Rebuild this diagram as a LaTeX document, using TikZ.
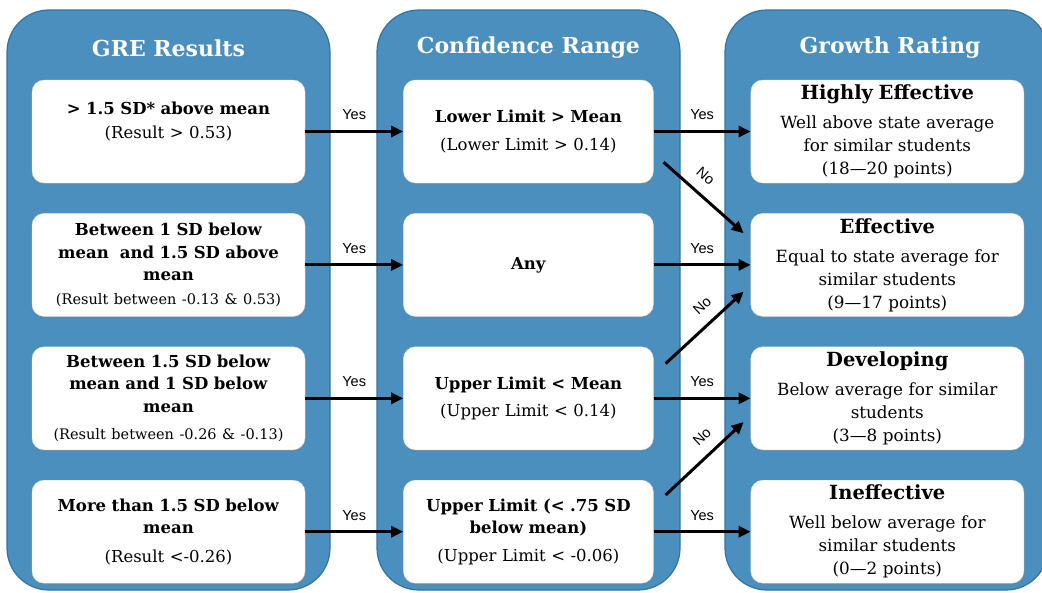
\documentclass[tikz,border=0pt]{standalone}
\usepackage{fontspec}
\setmainfont{DejaVu Serif}
\newfontfamily\yesnofont{Liberation Sans}
\usetikzlibrary{arrows.meta, positioning, shadows}
\definecolor{panelBlue}{RGB}{74, 143, 190}
\definecolor{panelEdge}{RGB}{50, 116, 163}
\newcommand{\noteSize}{\fontsize{14.5}{17}\selectfont}
\newcommand{\rateTitle}{\fontsize{19.5}{23}\selectfont\bfseries}
\tikzset{
    % 三个蓝色大框
    panel/.style={
        rectangle, rounded corners=42pt, fill=panelBlue, draw=panelEdge,
        line width=1.2pt, minimum height=580pt, inner sep=0pt
    },
    panelTitle/.style={text=white, font=\fontsize{22}{26}\selectfont\bfseries},
    %
    % 白色小框
    baseBox/.style={
        rectangle, rounded corners=12pt, fill=white, draw=black!12,
        line width=0.4pt, minimum height=103pt, align=center, inner sep=2pt,
        font=\fontsize{16.5}{22.5}\selectfont,
        drop shadow={opacity=0.25, shadow xshift=1pt, shadow yshift=-2pt}
    },
    greBox/.style={baseBox, minimum width=273pt, text width=269pt},
    crBox/.style={baseBox, minimum width=250pt, text width=246pt},
    grBox/.style={baseBox, minimum width=273pt, text width=269pt, font=\fontsize{16.8}{23}\selectfont},
    %
    % 连线
    conn/.style={draw=black, line width=3pt, -{Triangle[length=12pt, width=11pt]}},
    yesLabel/.style={above, inner sep=10pt, font=\yesnofont\fontsize{14.5}{17}\selectfont},
    noLabel/.style={above, sloped, inner sep=11pt, font=\yesnofont\fontsize{14.5}{17}\selectfont}
}

\begin{document}
\begin{tikzpicture}[x=1pt, y=-1pt]

	\useasboundingbox (0,0) rectangle (1042,592);
	\fill[white] (0,0) rectangle (1042,592);

	%% 大框
	\node (grePanel) [panel, minimum width=323pt] at (168.5,300) {};
	\node (crPanel) [panel, minimum width=303pt] at (528.5,300) {};
	\node (grPanel) [panel, minimum width=323pt] at (886.5,300) {};

	\node (greTitle) [panelTitle] at (168.5,48) {GRE Results};
	\node (crTitle) [panelTitle] at (528.5,48) {Confidence Range};
	\node (grTitle) [panelTitle] at (890,48) {Growth Rating};

	%% 左列
	\node (gre1) [greBox] at (168.5,131.5) {\textbf{> 1.5 SD* above mean}\\[2pt] (Result > 0.53)\\ \mbox{}};
	\node (gre2) [greBox, below=30pt of gre1] {\textbf{Between 1 SD below}\\ \textbf{mean\ \ and 1.5 SD above}\\ \textbf{mean}\\[1pt] {\noteSize (Result between -0.13 \& 0.53)}};
	\node (gre3) [greBox, below=30pt of gre2] {\textbf{Between 1.5 SD below}\\ \textbf{mean and 1 SD below}\\ \textbf{mean}\\[5pt] {\noteSize (Result between -0.26 \& -0.13)}};
	\node (gre4) [greBox, below=30pt of gre3] {\textbf{More than 1.5 SD below}\\ \textbf{mean}\\[6pt] (Result <-0.26)};

	%% 中列
	\node (cr1) [crBox, right=98pt of gre1] {\textbf{Lower Limit > Mean}\\[5pt] (Lower Limit > 0.14)};
	\node (cr2) [crBox, right=98pt of gre2] {\textbf{Any}};
	\node (cr3) [crBox, right=98pt of gre3] {\textbf{Upper Limit < Mean}\\[5pt] (Upper Limit < 0.14)};
	\node (cr4) [crBox, right=98pt of gre4] {\textbf{Upper Limit (< .75 SD}\\ \textbf{below mean)}\\[5pt] (Upper Limit < -0.06)};

	%% 右列
	\node (gr1) [grBox, right=97pt of cr1] {{\rateTitle Highly Effective}\\[6pt] Well above state average\\ for similar students\\ (18—20 points)};
	\node (gr2) [grBox, right=97pt of cr2] {{\rateTitle Effective}\\[6pt] Equal to state average for\\ similar students\\ (9—17 points)};
	\node (gr3) [grBox, right=97pt of cr3] {{\rateTitle Developing}\\[6pt] Below average for similar\\ students\\ (3—8 points)};
	\node (gr4) [grBox, right=97pt of cr4] {{\rateTitle Ineffective}\\[6pt] Well below average for\\ similar students\\ (0—2 points)};

	%% 连线：Yes
	\draw[conn] (gre1.east) -- node[yesLabel] {Yes} (cr1.west);
	\draw[conn] (gre2.east) -- node[yesLabel] {Yes} (cr2.west);
	\draw[conn] (gre3.east) -- node[yesLabel] {Yes} (cr3.west);
	\draw[conn] (gre4.east) -- node[yesLabel] {Yes} (cr4.west);

	\draw[conn] (cr1.east) -- node[yesLabel] {Yes} (gr1.west);
	\draw[conn] (cr2.east) -- node[yesLabel] {Yes} (gr2.west);
	\draw[conn] (cr3.east) -- node[yesLabel] {Yes} (gr3.west);
	\draw[conn] (cr4.east) -- node[yesLabel] {Yes} (gr4.west);

	%% 连线：No
	\draw[conn] ([xshift=10pt, yshift=21pt]cr1.south east) -- node[noLabel, pos=0.38] {No} ([xshift=-7pt, yshift=-20pt]gr2.north west);
	\draw[conn] ([xshift=12pt, yshift=-17pt]cr3.north east) -- node[noLabel, pos=0.62] {No} ([xshift=-7pt, yshift=25pt]gr2.south west);
	\draw[conn] ([xshift=12pt, yshift=-15pt]cr4.north east) -- node[noLabel, pos=0.62] {No} ([xshift=-7pt, yshift=28pt]gr3.south west);

\end{tikzpicture}
\end{document}
